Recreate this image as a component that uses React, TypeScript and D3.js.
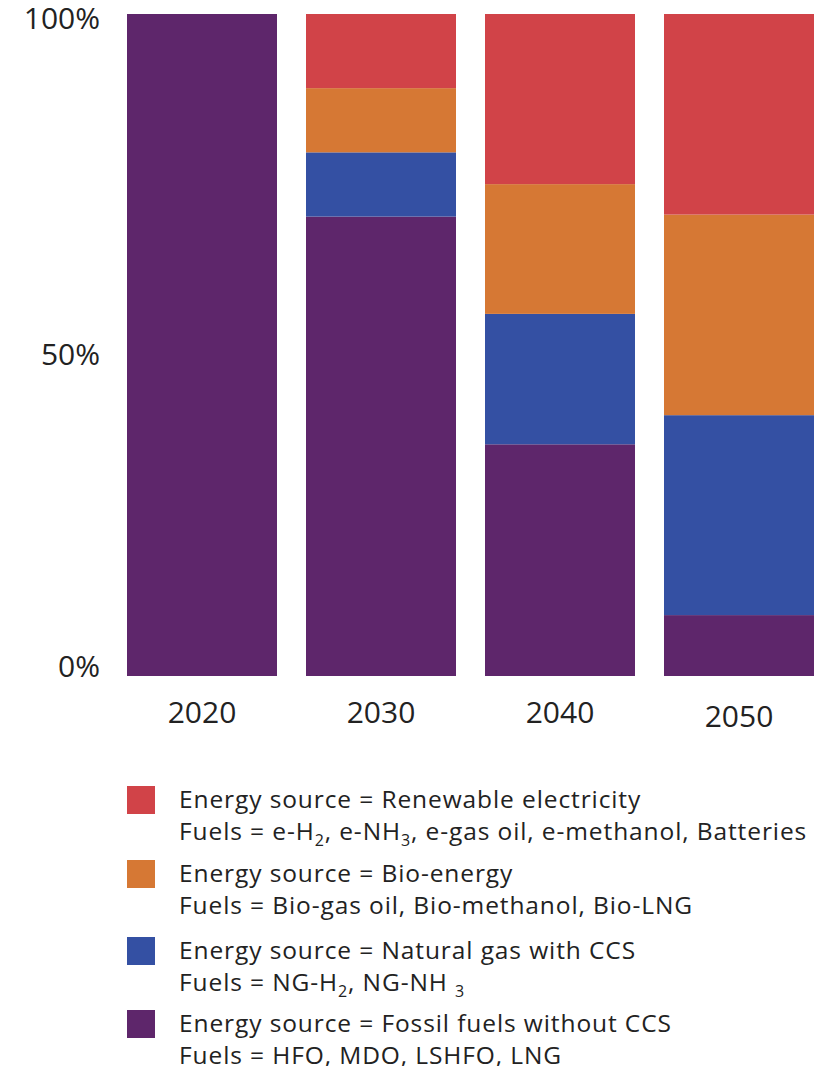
import React, { useRef, useEffect } from 'react'
import * as d3 from 'd3'

const years = ['2020', '2030', '2040', '2050']
// shares in percent, per energy source
const fossil = [100, 69.4, 35, 9.2]
const naturalGas = [0, 9.7, 19.7, 30.2]
const bioEnergy = [0, 9.7, 19.6, 30.3]
const renewable = [0, 11.2, 25.7, 30.3]
const yTicks = [0, 50, 100]

const keys = ['fossil', 'naturalGas', 'bioEnergy', 'renewable']
const colors = ['#5E266B', '#3450A3', '#D67834', '#D14348']

// legend lines: [text, subscript] pieces
const legendItems = [
    {
        key: 'renewable',
        line1: [['Energy source = Renewable electricity', '']],
        line2: [['Fuels = e-H', ''], ['2', 'sub'], [', e-NH', ''], ['3', 'sub'], [', e-gas oil, e-methanol, Batteries', '']],
    },
    {
        key: 'bioEnergy',
        line1: [['Energy source = Bio-energy', '']],
        line2: [['Fuels = Bio-gas oil, Bio-methanol, Bio-LNG', '']],
    },
    {
        key: 'naturalGas',
        line1: [['Energy source = Natural gas with CCS', '']],
        line2: [['Fuels = NG-H', ''], ['2', 'sub'], [', NG-NH ', ''], ['3', 'sub']],
    },
    {
        key: 'fossil',
        line1: [['Energy source = Fossil fuels without CCS', '']],
        line2: [['Fuels = HFO, MDO, LSHFO, LNG', '']],
    },
]

const FONT = '"Open Sans", Lato, sans-serif'

export default function App() {
    const ref = useRef<SVGSVGElement>(null)
    const width = 822
    const height = 1066

    useEffect(() => {
        const svg = d3.select(ref.current)
        svg.selectAll('*').remove()

        const rows = years.map((y, i) => ({
            year: y,
            fossil: fossil[i],
            naturalGas: naturalGas[i],
            bioEnergy: bioEnergy[i],
            renewable: renewable[i],
        }))

        const x = d3.scaleBand().domain(years).range([127, 814]).paddingInner(0.162).paddingOuter(0)
        const y = d3.scaleLinear().domain([0, 100]).range([676, 14])
        const color = d3.scaleOrdinal<string>().domain(keys).range(colors)

        const series = d3.stack<any>().keys(keys)(rows)

        svg.append('g')
            .selectAll('g')
            .data(series)
            .join('g')
            .attr('fill', (d) => color(d.key))
            .selectAll('rect')
            .data((d) => d)
            .join('rect')
            .attr('x', (d) => x(d.data.year)!)
            .attr('y', (d) => y(d[1]))
            .attr('height', (d) => y(d[0]) - y(d[1]))
            .attr('width', x.bandwidth())

        // y labels
        svg.append('g')
            .selectAll('text')
            .data(yTicks)
            .join('text')
            .attr('x', 100)
            .attr('y', (d) => y(d) + (d === 0 ? 1 : d === 50 ? 20 : 15))
            .attr('text-anchor', 'end')
            .attr('font-family', FONT)
            .attr('font-size', 30)
            .attr('fill', '#222')
            .text((d) => d + '%')

        // x labels
        svg.append('g')
            .selectAll('text')
            .data(years)
            .join('text')
            .attr('x', (d) => x(d)! + x.bandwidth() / 2)
            .attr('y', (d, i) => (i === 3 ? 727 : 723))
            .attr('text-anchor', 'middle')
            .attr('font-family', FONT)
            .attr('font-size', 30)
            .attr('fill', '#222')
            .text((d) => d)

        // legend
        const legendTops = [786, 860, 937, 1010]
        const lg = svg
            .append('g')
            .attr('font-family', FONT)
            .attr('font-size', 24.5)
            .attr('letter-spacing', 0.9)
            .attr('fill', '#222')
        legendItems.forEach((item, i) => {
            const top = legendTops[i]
            lg.append('rect')
                .attr('x', 127)
                .attr('y', top)
                .attr('width', 28)
                .attr('height', 28)
                .attr('fill', color(item.key))
            ;[item.line1, item.line2].forEach((parts, j) => {
                const t = lg.append('text').attr('x', 179).attr('y', top + 22 + j * 32)
                parts.forEach(([s, kind]) => {
                    const ts = t.append('tspan').text(s)
                    if (kind === 'sub') ts.attr('font-size', 16).attr('dy', 6)
                    else if (ts.node()!.previousSibling) ts.attr('dy', -6)
                })
            })
        })
    }, [])

    return (
        <svg
            ref={ref}
            width={width}
            height={height}
            style={{ display: 'block', position: 'absolute', left: 0, top: 0 }}
        ></svg>
    )
}
